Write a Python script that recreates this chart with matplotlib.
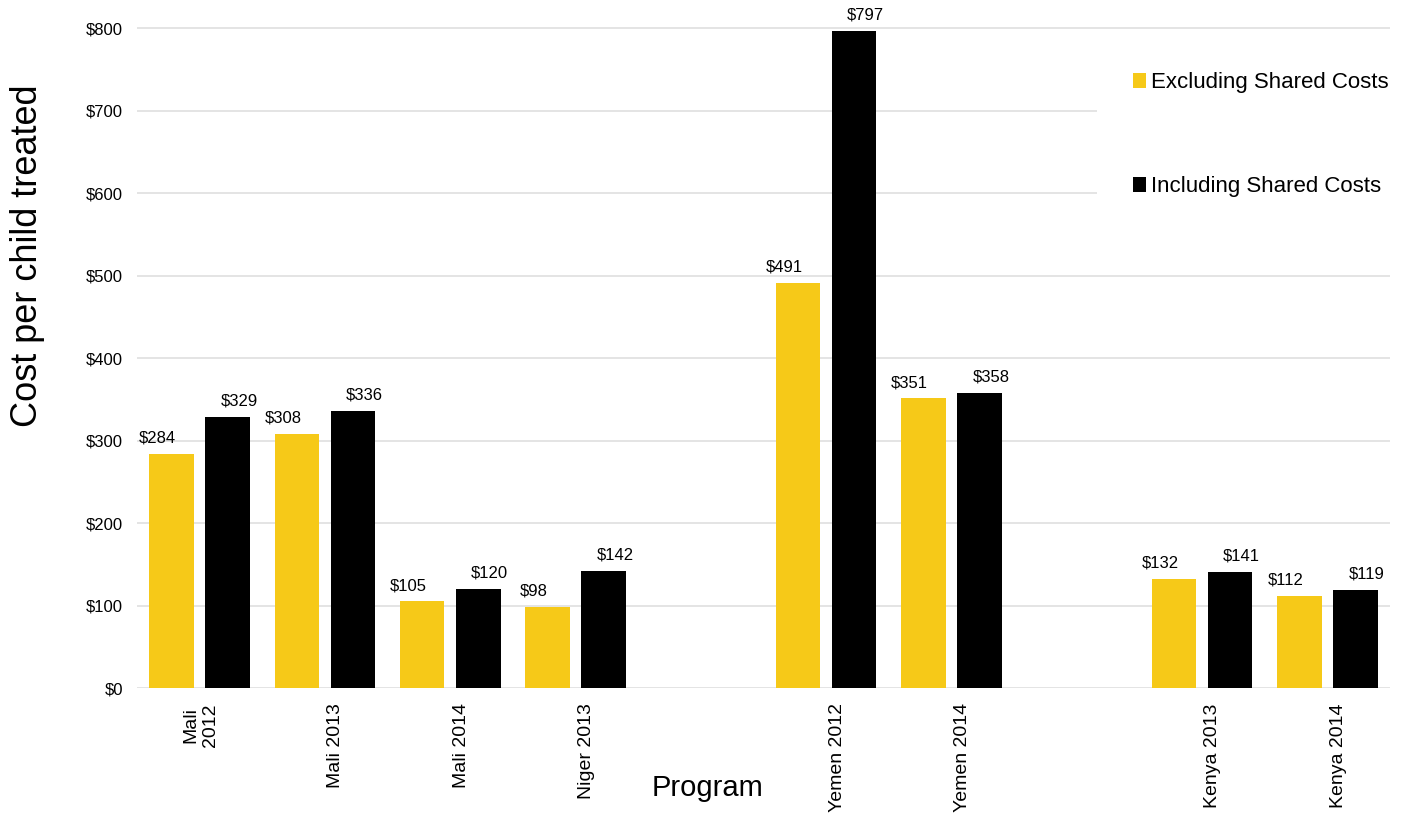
import matplotlib
matplotlib.use("Agg")
import matplotlib.pyplot as plt
from matplotlib.patches import Patch
import numpy as np

# program slots along the x axis (empty strings leave a gap between countries)
programs = ["Mali\n2012", "Mali 2013", "Mali 2014", "Niger 2013", "",
            "Yemen 2012", "Yemen 2014", "", "Kenya 2013", "Kenya 2014"]
excluding = [284, 308, 105, 98, None, 491, 351, None, 132, 112]
including = [329, 336, 120, 142, None, 797, 358, None, 141, 119]

yticks = [0, 100, 200, 300, 400, 500, 600, 700, 800]
ytick_labels = ["$" + str(v) for v in yticks]

yellow = "#f6c918"
black = "#000000"
font = ["Liberation Sans", "DejaVu Sans"]

fig = plt.figure(figsize=(14.03, 8.15), dpi=100)
ax = fig.add_axes([137 / 1403, 127 / 815, 1253 / 1403, 688 / 815])

idx = [i for i, p in enumerate(programs) if p]
x = np.array(idx, dtype=float)
excl = [excluding[i] for i in idx]
incl = [including[i] for i in idx]

w = 0.355
off = 0.224
ax.bar(x - off, excl, width=w, color=yellow, zorder=3)
ax.bar(x + off, incl, width=w, color=black, zorder=3)

for xi, v in zip(x, excl):
    ax.annotate("$" + str(v), (xi - off - 0.11, v), xytext=(0, 6),
                textcoords="offset points", ha="center", va="bottom",
                fontsize=12, family=font)
for xi, v in zip(x, incl):
    ax.annotate("$" + str(v), (xi + off + 0.09, v), xytext=(0, 6),
                textcoords="offset points", ha="center", va="bottom",
                fontsize=12, family=font)

ax.set_xlim(-0.5, 9.5)
ax.set_ylim(0, 834)
ax.set_yticks(yticks)
ax.set_yticklabels(ytick_labels, fontsize=12, family=font)
ax.set_xticks(x + 0.155)
ax.set_xticklabels([programs[i] for i in idx], rotation=90, ha="right",
                   fontsize=14, family=font, multialignment="center")
ax.tick_params(axis="both", length=0)
ax.tick_params(axis="y", pad=10)
ax.tick_params(axis="x", pad=11)
ax.grid(axis="y", color="#e4e4e4", linewidth=1.4, zorder=0)
ax.set_axisbelow(True)
for s in ax.spines.values():
    s.set_visible(False)

handles = [Patch(facecolor=yellow, edgecolor="none"),
           Patch(facecolor=black, edgecolor="none")]
leg = ax.legend(handles, ["Excluding Shared Costs", "Including Shared Costs"],
                loc="upper left", bbox_to_anchor=(1097 / 1403, 1 - 36 / 815),
                bbox_transform=fig.transFigure, borderaxespad=0,
                borderpad=1.62, labelspacing=3.75, handlelength=0.59,
                handleheight=0.68, handletextpad=0.22, frameon=True,
                fancybox=False, prop={"family": font, "size": 16})
leg.get_frame().set_facecolor("white")
leg.get_frame().set_edgecolor("none")
leg.get_frame().set_alpha(1)

fig.text(28 / 1403, 1 - 256 / 815, "Cost per child treated", rotation=90,
         ha="center", va="center", fontsize=26, family=font)
fig.text(708 / 1403, 1 - 788 / 815, "Program", ha="center", va="center",
         fontsize=21, family=font)

fig.savefig("out.png", dpi=100)
